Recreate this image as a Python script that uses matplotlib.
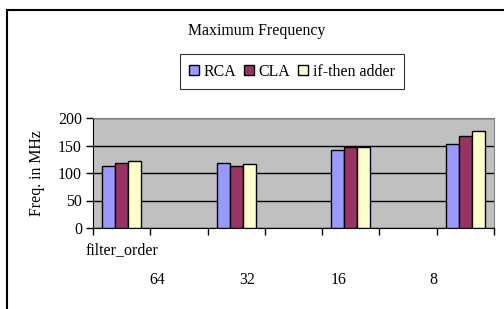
import numpy as np
import matplotlib.pyplot as plt
from matplotlib.patches import Rectangle

plt.rcParams['font.family'] = ['Liberation Serif', 'DejaVu Serif']

#%% Data
filter_order = ['64', '32', '16', '8']
rca = [113, 119, 142, 152]
cla = [118, 113, 147, 168]
ifthen = [121, 116, 147, 176]

series = ['RCA', 'CLA', 'if-then adder']
colors = ['#9999FF', '#993366', '#FFFFCC']

fs = 11.4

#%% Plot
fig = plt.figure(figsize=[5.04, 3.09], dpi=100)
ax = fig.add_axes([93/504, 1-228/309, 401/504, 110/309])

n_slots = 7
slots = np.arange(len(filter_order))*2 + 0.5
w = 0.227
for k, (vals, c) in enumerate(zip([rca, cla, ifthen], colors)):
    ax.bar(slots + (k-1)*w, vals, width=w, color=c, edgecolor='black',
           linewidth=1.0, label=series[k], zorder=3)

ax.set_facecolor('#C0C0C0')
ax.set_xlim(0, n_slots)
ax.set_ylim(0, 200)
ax.set_yticks([0, 50, 100, 150, 200])
ax.set_xticks(np.arange(n_slots+1))
ax.set_xticklabels([])
ax.yaxis.grid(True, color='black', linewidth=1.0, zorder=1)
ax.set_axisbelow(True)
ax.tick_params(axis='y', direction='out', length=5, width=1, labelsize=fs, pad=3)
ax.tick_params(axis='x', direction='out', length=5, width=1)
ax.spines['left'].set_color('black')
ax.spines['bottom'].set_color('black')
ax.spines['top'].set_color('#808080')
ax.spines['right'].set_color('#808080')
ax.set_ylabel('Freq. in MHz', fontsize=fs, labelpad=9)

fig.text(257/504, 1-31/309, 'Maximum Frequency', ha='center', va='center', fontsize=fs)
fig.text(85/504, 1-250/309, 'filter_order', ha='left', va='center', fontsize=fs)
label_x = [157, 247, 339, 433]
for lx, lab in zip(label_x, filter_order):
    fig.text(lx/504, 1-280/309, lab, ha='center', va='center', fontsize=fs)

leg = fig.legend(loc='center', bbox_to_anchor=(292/504, 1-71.5/309), ncol=3,
                 fontsize=fs, frameon=True, fancybox=False, handlelength=0.6,
                 handleheight=0.6, handletextpad=0.3, columnspacing=0.5,
                 borderpad=0.6)
leg.get_frame().set_edgecolor('black')
leg.get_frame().set_linewidth(0.8)

fig.patches.append(Rectangle((7/504, -0.05), 1.1, 1-10/309+0.05,
                             transform=fig.transFigure, fill=False,
                             edgecolor='black', linewidth=1.5))

plt.savefig('out.png', dpi=100)
